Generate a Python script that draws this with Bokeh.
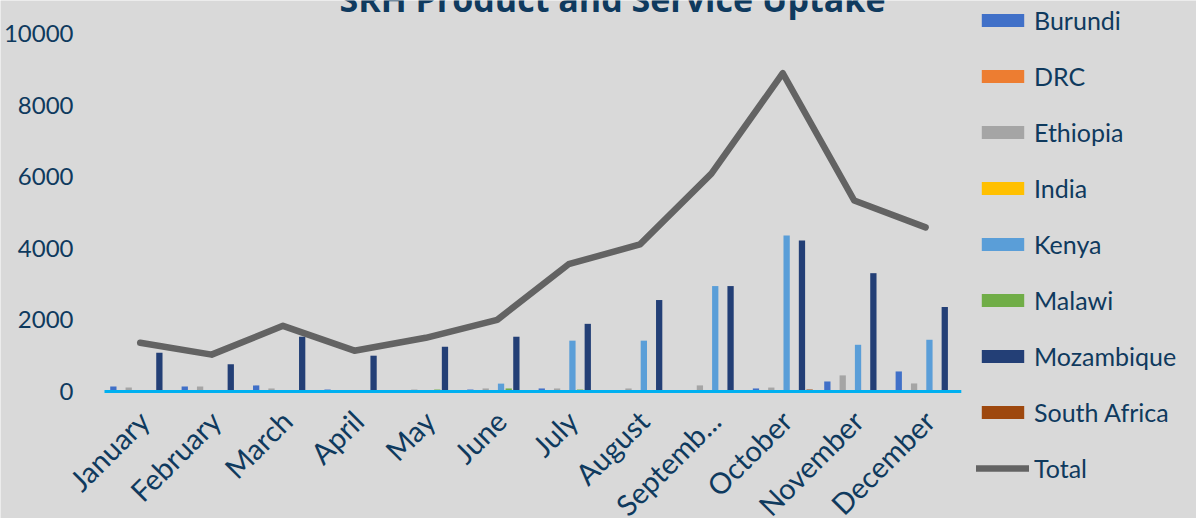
import math
from bokeh.plotting import figure
from bokeh.models import ColumnDataSource, Legend, LegendItem, Label, Range1d
from bokeh.transform import dodge
from bokeh.core.properties import value
from bokeh.embed import file_html
from bokeh.resources import INLINE

months = ["January", "February", "March", "April", "May", "June", "July",
          "August", "September", "October", "November", "December"]
month_tick_labels = {"September": "Septemb..."}

series_names = ["Burundi", "DRC", "Ethiopia", "India", "Kenya", "Malawi",
                "Mozambique", "South Africa"]
burundi = [140, 140, 170, 55, 30, 55, 85, 30, 30, 85, 280, 560]
drc = [0, 0, 0, 0, 0, 0, 0, 0, 0, 0, 0, 0]
ethiopia = [110, 140, 85, 30, 55, 85, 85, 85, 170, 110, 450, 225]
india = [15, 0, 0, 0, 15, 0, 15, 0, 0, 0, 0, 0]
kenya = [0, 0, 0, 30, 30, 220, 1420, 1420, 2945, 4360, 1305, 1445]
malawi = [0, 0, 0, 0, 55, 85, 55, 0, 0, 0, 0, 0]
mozambique = [1085, 760, 1530, 1000, 1250, 1530, 1890, 2555, 2945, 4220, 3305, 2360]
south_africa = [0, 0, 0, 0, 0, 0, 0, 0, 0, 56, 0, 0]
total = [1360, 1030, 1835, 1140, 1500, 2000, 3555, 4110, 6085, 8890, 5335, 4585]

y_ticks = [0, 2000, 4000, 6000, 8000, 10000]
title_text = "SRH Product and Service Uptake"

series_values = [burundi, drc, ethiopia, india, kenya, malawi, mozambique, south_africa]
colors = ["#4070c8", "#ed7d31", "#a5a5a5", "#ffc000", "#5a9ed8", "#70ad47",
          "#233f76", "#9e480e"]
total_color = "#636363"

n = len(months)
xs = list(range(n))
data = {"x": xs, "month": months, "Total": total,
        "label": [month_tick_labels.get(m, m) for m in months]}
for name, vals in zip(series_names, series_values):
    data[name] = vals
src = ColumnDataSource(data)

TXT = "#0f3a5e"
BG = "#d9d9d9"
FONT = "Lato"

W, H = 1196, 518
FRAME_OFF = 0          # the frame starts at the canvas edge
PLOT_LEFT = 104        # pixel column where the category area starts
ZERO_PX = 391          # pixel row of the value 0
PX_PER_UNIT = 0.0358   # pixels per unit on the value axis
CAT_PX = 71.4          # pixels per month

y0 = -(H - ZERO_PX) / PX_PER_UNIT
y1 = ZERO_PX / PX_PER_UNIT
x0 = -0.5 - (PLOT_LEFT - FRAME_OFF) / CAT_PX
x1 = x0 + (W - FRAME_OFF) / CAT_PX

p = figure(x_range=Range1d(x0, x1), y_range=Range1d(y0, y1), width=W, height=H,
           output_backend="svg", toolbar_location=None, x_axis_location=None,
           min_border_left=0, min_border_right=0, min_border_top=0,
           min_border_bottom=0)
p.background_fill_color = BG
p.border_fill_color = BG
p.outline_line_color = None
p.xgrid.grid_line_color = None
p.ygrid.grid_line_color = None

p.yaxis.ticker = y_ticks
p.yaxis.axis_line_color = None
p.yaxis.major_tick_line_color = None
p.yaxis.minor_tick_line_color = None
p.yaxis.major_label_text_font = FONT
p.yaxis.major_label_text_font_size = "24px"
p.yaxis.major_label_text_color = TXT
p.yaxis.major_label_standoff = -79

slot = 0.1074
items = []
for k, (name, col) in enumerate(zip(series_names, colors)):
    r = p.vbar(x=dodge("x", (k - 3.5) * slot), top=name, width=0.088,
               source=src, fill_color=col, line_color=None)
    items.append(LegendItem(label=name, renderers=[r]))

# category axis baseline
p.segment(x0=[-0.5], x1=[n - 0.5], y0=[0], y1=[0], line_color="#00b0f0",
          line_width=3)

ln = p.line(x="x", y="Total", source=src, line_width=6.5, line_color=total_color,
            line_join="round", line_cap="round")
items.append(LegendItem(label="Total", renderers=[ln]))

# month labels, rotated 45 degrees below the baseline
label_y = -24 / PX_PER_UNIT
p.text(x=dodge("x", 0.05), y=label_y, text="label", source=src, angle=math.pi / 4,
       text_align="right", text_baseline="middle", text_font=value(FONT),
       text_font_size="29px", text_color=TXT)

ITEM_H = 30
SPACING = 26
legend_h = 9 * ITEM_H + 8 * SPACING
legend_top = 5
legend = Legend(items=items, location=(976 - FRAME_OFF, H - (legend_top + legend_h)),
                glyph_width=53, glyph_height=16,
                label_standoff=5, padding=0, margin=0, spacing=SPACING,
                label_height=ITEM_H, label_text_font=FONT, label_text_font_size="25px",
                label_text_color=TXT, border_line_color=None,
                background_fill_alpha=0)
p.add_layout(legend, "center")

title = Label(x=612 - FRAME_OFF, y=H + 2, x_units="screen", y_units="screen",
              text=title_text, text_align="center", text_baseline="alphabetic",
              text_font="Open Sans", text_font_style="bold",
              text_font_size="34px", text_color=TXT)
p.add_layout(title)

html = file_html(p, INLINE)
open("out.html", "w").write(html)
